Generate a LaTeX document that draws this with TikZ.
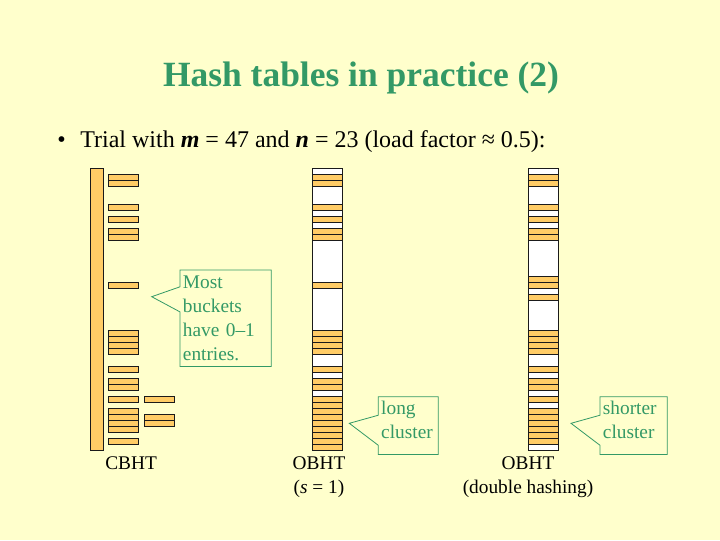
\documentclass[tikz,border=0pt]{standalone}
\usepackage{fontspec}
\setmainfont{Liberation Serif}
\usepackage{tikz}
\usetikzlibrary{positioning, calc}
\definecolor{slidebg}{HTML}{FFFFCC}
\definecolor{bucketfill}{HTML}{FFCC66}
\definecolor{notegreen}{HTML}{339966}
\definecolor{edgedark}{HTML}{1A1A1A}

\begin{document}
\begin{tikzpicture}[x=0.75pt, y=-0.75pt,
  filledslot/.style={draw=edgedark, fill=bucketfill, line width=0.6pt},
  tablecol/.style={draw=edgedark, fill=white, line width=0.8pt, inner sep=0pt, anchor=north west,
    minimum width=22.5pt, minimum height=211.5pt},
  notetext/.style={text=notegreen, font=\fontsize{14.5}{18}\selectfont, align=left, anchor=north west,
    inner xsep=2pt, inner ysep=0pt},
  notebox/.style={draw=notegreen, line width=0.6pt},
  caption/.style={font=\fontsize{14.5}{18}\selectfont, align=center, inner sep=0pt}]
  \fill[slidebg] (0,0) rectangle (720,540);
  \useasboundingbox (0,0) rectangle (720,540);
  % Title and bullet
  \node[font=\fontsize{26.6}{32}\selectfont\bfseries, text=notegreen, anchor=base] (title) at (361,86)
    {Hash tables in practice (2)};
  \node[font=\fontsize{18}{22}\selectfont, anchor=base west, inner sep=0pt] (trial) at (57,147)
    {\textbullet\hspace{11pt}Trial with \textit{\textbf{m}} = 47 and \textit{\textbf{n}} = 23 (load factor ≈ 0.5):};
  % CBHT: bucket array and chained nodes
  \node[draw=edgedark, fill=bucketfill, line width=0.8pt, inner sep=0pt, anchor=north west,
    minimum width=9.5pt, minimum height=211.5pt] (cbhtbar) at (90,168.3) {};
  \foreach \i in {1,2,6,8,10,11,19,27,28,29,30,33,35,36,38,40,41,42,43,45}
    \draw[filledslot] (108.3,168.3+6*\i) rectangle ++(30,6);
  \foreach \i in {38,41,42}
    \draw[filledslot] (144.3,168.3+6*\i) rectangle ++(30,6);
  % OBHT, linear probing
  \node[tablecol] (linprobe) at (312.3,168.3) {};
  \foreach \i in {1,2,6,8,10,11,19,27,28,29,30,33,35,36,38,39,40,41,42,43,44,45,46}
    \draw[filledslot] ($(linprobe.north west)+(0,6*\i)$) rectangle ++(30,6);
  % OBHT, double hashing
  \node[tablecol] (dblhash) at (528.3,168.3) {};
  \foreach \i in {1,2,6,8,10,11,18,19,21,27,28,29,30,33,35,36,38,40,41,42,43,44,45}
    \draw[filledslot] ($(dblhash.north west)+(0,6*\i)$) rectangle ++(30,6);
  % Callouts
  \node[notetext, text width=64pt, minimum width=68pt, minimum height=72pt] (mostnote) at (180,270)
    {Most\\buckets\\have 0--1\\entries.};
  \coordinate (mosttip) at (151.7,296.7);
  \draw[notebox] (mostnote.north west) -- ($(mostnote.north west)!0.174!(mostnote.south west)$)
    -- (mosttip) -- ($(mostnote.north west)!0.434!(mostnote.south west)$)
    -- (mostnote.south west) -- (mostnote.south east) -- (mostnote.north east) -- cycle;
  \node[notetext, text width=40.5pt, minimum width=44.5pt, minimum height=43pt] (longnote) at (378.3,396.7)
    {long\\cluster\par\vspace{9pt}};
  \coordinate (longtip) at (349.3,423.3);
  \draw[notebox] (longnote.north west) -- ($(longnote.north west)!0.32!(longnote.south west)$)
    -- (longtip) -- ($(longnote.north west)!0.84!(longnote.south west)$)
    -- (longnote.south west) -- (longnote.south east) -- (longnote.north east) -- cycle;
  \node[notetext, text width=46pt, minimum width=50pt, minimum height=43pt] (shortnote) at (600,396.7)
    {shorter\\cluster\par\vspace{9pt}};
  \coordinate (shorttip) at (571,423.3);
  \draw[notebox] (shortnote.north west) -- ($(shortnote.north west)!0.32!(shortnote.south west)$)
    -- (shorttip) -- ($(shortnote.north west)!0.84!(shortnote.south west)$)
    -- (shortnote.south west) -- (shortnote.south east) -- (shortnote.north east) -- cycle;
  % Captions
  \node[caption, anchor=north west] (cbhtlabel) at (105,456.5) {CBHT};
  \node[caption, anchor=north] (linlabel) at (319,456.5) {OBHT\\(\textit{s} = 1)};
  \node[caption, anchor=north] (dbllabel) at (528,456.5) {OBHT\\(double hashing)};
\end{tikzpicture}
\end{document}
